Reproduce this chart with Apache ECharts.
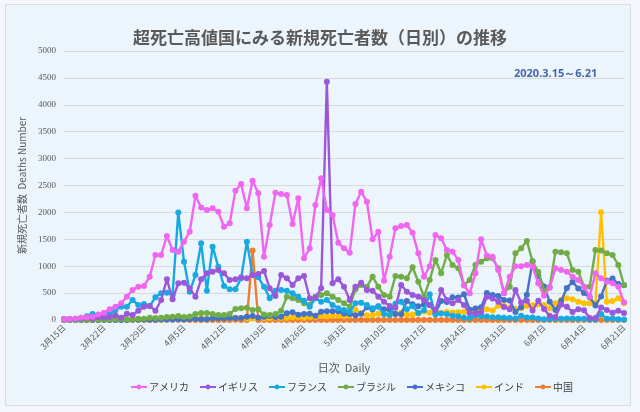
<!DOCTYPE html>
<html>
<head>
<meta charset="utf-8">
<script src="https://cdn.jsdelivr.net/npm/echarts@6/dist/echarts.min.js"></script>
<style>
html,body{margin:0;padding:0;background:#F3F7FB;}
#frame{position:absolute;left:5px;top:4px;width:626px;height:402px;border:1px solid #D6DCE2;background:#EDF5FC;box-sizing:border-box;}
#chart{position:absolute;left:0;top:0;width:640px;height:412px;}
</style>
</head>
<body>
<div id="frame"></div>
<div id="chart"></div>
<script>
const categories = [
"3月15日","3月16日","3月17日","3月18日","3月19日","3月20日","3月21日","3月22日","3月23日","3月24日","3月25日","3月26日","3月27日","3月28日","3月29日","3月30日","3月31日",
"4月1日","4月2日","4月3日","4月4日","4月5日","4月6日","4月7日","4月8日","4月9日","4月10日","4月11日","4月12日","4月13日","4月14日","4月15日","4月16日","4月17日","4月18日","4月19日","4月20日","4月21日","4月22日","4月23日","4月24日","4月25日","4月26日","4月27日","4月28日","4月29日","4月30日",
"5月1日","5月2日","5月3日","5月4日","5月5日","5月6日","5月7日","5月8日","5月9日","5月10日","5月11日","5月12日","5月13日","5月14日","5月15日","5月16日","5月17日","5月18日","5月19日","5月20日","5月21日","5月22日","5月23日","5月24日","5月25日","5月26日","5月27日","5月28日","5月29日","5月30日","5月31日",
"6月1日","6月2日","6月3日","6月4日","6月5日","6月6日","6月7日","6月8日","6月9日","6月10日","6月11日","6月12日","6月13日","6月14日","6月15日","6月16日","6月17日","6月18日","6月19日","6月20日","6月21日"];

const seriesNames = ["アメリカ","イギリス","フランス","ブラジル","メキシコ","インド","中国"];

const usa = [10,20,25,40,50,60,100,136,198,248,310,434,558,620,632,805,1208,
1208,1561,1300,1270,1456,1641,2310,2090,2045,2076,2013,1734,1797,2404,2528,2076,2590,2355,1177,1766,2367,2342,2323,1784,2262,1147,1333,2138,2634,2045,
1952,1437,1333,1251,2156,2385,2200,1500,1641,731,1177,1704,1747,1766,1623,1239,805,1000,1580,1518,1301,1270,1115,640,496,868,1500,1200,1177,930,500,
805,1000,1000,1022,990,682,450,600,961,930,899,805,743,620,434,868,775,712,682,620,330];

const uk = [14,20,16,33,40,33,56,48,54,87,41,115,93,173,248,260,173,
372,756,384,682,694,589,434,756,868,899,930,868,743,756,793,775,836,855,911,589,446,836,775,651,775,818,403,420,589,4430,
682,756,620,372,620,694,558,545,434,341,260,230,651,527,465,434,372,279,186,558,372,310,372,279,130,124,150,430,400,340,240,
200,556,324,359,176,357,204,77,55,286,245,151,202,181,36,38,233,184,135,173,128];

const france = [12,20,25,30,70,110,80,110,115,186,248,248,372,279,297,260,421,
496,508,465,2000,1084,527,836,1425,545,1363,990,632,570,570,775,1456,836,793,620,403,545,558,545,496,434,359,248,403,341,372,
279,217,186,155,310,322,279,217,248,112,93,300,340,200,260,130,180,480,100,120,110,80,70,40,35,90,70,65,50,50,40,
35,30,80,45,45,30,15,20,25,25,30,30,25,25,10,10,110,25,30,15,10];

const brazil = [0,0,1,3,4,7,7,9,12,13,18,15,19,25,23,42,39,
40,58,60,73,54,67,112,130,130,112,93,93,112,205,217,229,186,199,100,95,110,170,430,403,372,310,279,434,465,496,
434,372,310,248,570,651,620,806,620,465,434,818,805,775,980,712,434,743,1115,868,1208,1022,961,651,743,1022,1084,1146,1146,961,496,
620,1239,1333,1470,1082,894,550,614,1270,1260,1239,930,899,620,620,1301,1290,1239,1208,1022,651];

const mexico = [0,0,0,0,1,0,1,0,2,1,1,1,3,4,4,4,6,
8,7,8,13,10,19,19,15,16,33,31,34,39,38,36,59,74,43,60,73,56,62,126,145,98,113,114,81,152,163,
163,163,119,113,89,117,236,197,257,199,189,111,108,353,294,257,290,278,131,351,334,424,420,479,190,215,239,501,463,447,371,
364,151,237,470,1092,816,625,341,188,354,596,708,587,504,424,269,439,730,770,667,647];

const india = [0,0,1,0,1,0,1,3,1,1,1,3,4,2,4,5,6,
3,15,12,17,13,32,13,41,20,33,33,36,31,41,37,30,30,40,34,37,43,35,36,50,50,43,58,56,73,66,
77,79,69,83,195,126,89,94,116,111,87,121,136,98,103,120,157,134,140,134,148,141,142,147,154,148,172,198,175,267,265,
230,204,217,260,273,287,280,217,310,372,403,384,341,310,310,310,2003,341,353,403,310];

const china = [14,13,11,8,3,7,6,9,7,4,6,5,3,5,5,1,1,
6,4,3,4,3,2,0,2,1,1,2,2,0,3,1,1,1290,0,0,0,0,0,0,0,0,0,0,0,0,0,
0,0,0,0,0,0,0,0,1,0,0,0,0,0,0,0,0,0,0,0,0,0,0,0,0,0,0,0,0,0,0,
0,0,0,0,0,0,0,0,0,0,0,0,0,0,0,0,0,0,0,0,0];

const yTicks = {min:0, max:5000, interval:500};
const colors = ["#F066F0","#9B57DA","#17A9E1","#70AD47","#4472C4","#FFC000","#ED7D31"];
const allData = [usa, uk, france, brazil, mexico, india, china];

const chart = echarts.init(document.getElementById('chart'), null, {renderer:'canvas'});
const jp = '"Noto Sans CJK JP","Noto Sans",sans-serif';

chart.setOption({
  animation:false,
  backgroundColor:'transparent',
  color: colors,
  title:[{
    text:'超死亡高値国にみる新規死亡者数（日別）の推移',
    left:'center', top:24,
    textStyle:{fontFamily:jp, fontSize:17, fontWeight:'bold', color:'#595959'}
  },{
    text:'2020.3.15～6.21',
    left:509, top:63,
    textStyle:{fontFamily:'"Open Sans","DejaVu Sans",sans-serif', fontSize:11, fontWeight:'bold', color:'#4266A8'}
  }],
  grid:{left:64, right:16, top:51, bottom:92},
  legend:{
    bottom:15, left:125,
    itemWidth:16, itemHeight:6, itemGap:10,
    textStyle:{fontFamily:jp, fontSize:10, color:'#404040', padding:[0,0,0,-3]},
    data: seriesNames
  },
  xAxis:{
    type:'category', data:categories, boundaryGap:false,
    name:'日次  Daily', nameLocation:'middle', nameGap:42,
    nameTextStyle:{fontFamily:jp, fontSize:11, color:'#595959'},
    axisLine:{show:false}, axisTick:{show:false},
    axisLabel:{interval:6, rotate:45, fontFamily:jp, fontSize:8.5, color:'#595959', margin:6}
  },
  yAxis:{
    type:'value', min:yTicks.min, max:yTicks.max, interval:yTicks.interval,
    name:'新規死亡者数  Deaths Number', nameLocation:'middle', nameGap:29, nameRotate:90,
    nameTextStyle:{fontFamily:jp, fontSize:10, color:'#595959'},
    axisLine:{show:false}, axisTick:{show:false},
    axisLabel:{fontFamily:'"Liberation Serif",serif', fontSize:9, color:'#595959', margin:8,
      formatter: v => String(v)},
    splitLine:{lineStyle:{color:'#D9D9D9', width:1}}
  },
  series: seriesNames.map((n,i)=>({
    name:n, type:'line', data:allData[i],
    symbol:'circle', symbolSize:6, showSymbol:true, showAllSymbol:true,
    lineStyle:{width:2.4, color:colors[i]},
    itemStyle:{color:colors[i]},
    z: 10 - i
  }))
});
</script>
</body>
</html>
